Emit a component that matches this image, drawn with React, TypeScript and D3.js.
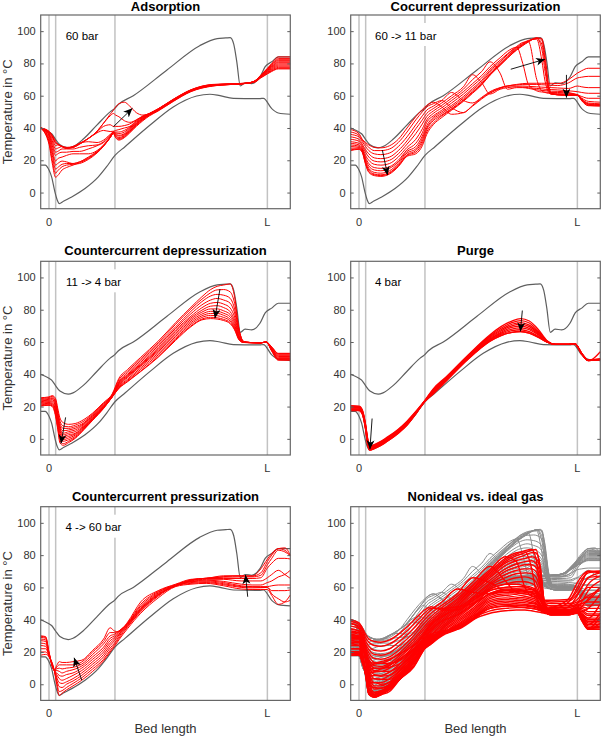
import { useEffect, useRef } from "react";
import * as d3 from "d3";

const PANEL_W = 249.6;
const PANEL_H = 193.7;
const COL_X = [40.7, 350.7];
const ROW_Y = [15, 261.3, 506.7];
const FONT = "'Liberation Sans', Arial, sans-serif";

const Y_TICKS = [0, 20, 40, 60, 80, 100];
const ZONE_LINES = [0, 3.05, 30.2, 100];

// x is position along the bed in percent, y is temperature in deg C
const hotProfileX = [-3.8, 0, 1.2, 3, 5, 8.8, 11, 15.6, 21.8, 28, 30, 31.8, 38.6, 53.9, 69, 77, 81, 83, 84.6, 86, 87.6, 89.8, 92.8, 96.6, 99, 102, 105, 110.5];
const hotProfile = [40, 37.5, 36.4, 33, 29.6, 27.7, 28.5, 33, 41.6, 50, 52, 54.6, 60, 75.8, 91, 95.4, 95.8, 96, 92, 81, 66, 68, 67.5, 71.6, 78, 81, 84, 84];
const coldProfileX = [-3.8, -1.8, 0, 1.2, 2.7, 3.8, 4.7, 6.6, 10.4, 16.5, 22.6, 26.4, 30.2, 34.8, 46.3, 56.9, 67.6, 73.7, 78.3, 84.4, 96.6, 98.2, 102, 105, 110.5];
const coldProfile = [17, 17, 14, 9.7, 0.4, -4.8, -6.8, -5.4, -2.7, 2.5, 9.7, 16, 23, 28.4, 41.8, 53, 59.8, 60.9, 60, 58.4, 58.2, 58.4, 52, 49.3, 48.5];

const adsorptionX = [-3.8, 0, 1.5, 3, 4, 6, 8, 11, 14, 18, 22, 25, 28, 29.5, 30.5, 32, 34.5, 37, 40, 43, 46, 50, 57, 65, 75, 90, 94, 97, 100, 102, 105, 110.5];
const adsorptionCurves = [
  [40, 30, 18, 9.5, 10.5, 14, 15.5, 17, 18.5, 21, 25, 29, 34, 36.5, 34, 32.5, 34, 37, 41, 44.5, 47.5, 50.5, 56.5, 62.5, 66, 67.6, 68.3, 71, 73.5, 75, 76.6, 76.6],
  [40, 31, 20, 12, 13.5, 16, 17, 17.5, 18, 20.5, 24.5, 28.7, 34, 36.7, 34.3, 33, 34.5, 37.5, 41.5, 45, 48, 50.8, 56.7, 62.7, 66.1, 67.6, 68.4, 71.3, 73.8, 75.4, 77, 77],
  [40, 32, 23, 14.5, 15.5, 17.5, 18, 18, 19, 21.5, 25, 28.8, 34, 37, 35, 33.5, 35, 38, 42, 45.3, 48, 51, 56.9, 62.9, 66.2, 67.6, 68.5, 71.6, 74.2, 75.8, 77.6, 77.6],
  [40, 33.5, 25, 17, 18, 19.5, 19, 18, 19, 22, 25.5, 29, 34.2, 37.2, 35.5, 34, 35.5, 38.5, 42.3, 45.6, 48.2, 51.2, 57, 63, 66.3, 67.6, 68.6, 71.8, 74.6, 76.3, 78.3, 78.3],
  [40, 34.5, 27, 19.5, 21, 22, 23, 24, 24, 24, 26, 29.5, 34.5, 37.5, 36, 35, 36, 39, 42.7, 45.9, 48.3, 51.3, 57.2, 63.1, 66.4, 67.6, 68.7, 72, 75, 76.8, 79, 79],
  [40, 35.5, 29, 23, 24, 25, 25, 25.5, 25.5, 27, 29, 31, 35, 37.5, 36.5, 35.5, 36.5, 39.5, 43, 46.2, 48.5, 51.5, 57.4, 63.2, 66.5, 67.6, 68.8, 72.2, 75.4, 77.3, 79.7, 79.7],
  [40, 36, 30.5, 25, 25.5, 27, 27, 27, 28, 29, 29.5, 31.5, 35.5, 37.5, 37, 36.5, 37.5, 40, 43.5, 46.5, 48.7, 51.6, 57.5, 63.3, 66.6, 67.6, 68.8, 72.3, 75.7, 77.8, 80.4, 80.4],
  [40, 36.5, 32, 27, 27.5, 28.5, 28, 28.5, 30.5, 31.5, 31, 32.5, 36, 37.5, 37.5, 37.5, 38.5, 40.5, 44, 46.8, 48.9, 51.7, 57.6, 63.4, 66.7, 67.7, 68.9, 72.4, 76, 78.2, 81, 81],
  [40, 37, 33.5, 29, 29.5, 28.5, 27.5, 28.5, 30.5, 33.5, 37, 38.5, 37.8, 38, 38.5, 39, 40, 41, 44.5, 47, 49, 51.8, 57.7, 63.5, 66.8, 67.7, 68.9, 72.5, 76.3, 78.7, 81.7, 81.7],
  [40, 37.5, 34.5, 30.5, 30, 28.5, 27.5, 28, 30.2, 33.5, 37.5, 41, 42, 41, 41, 41, 41.5, 42.5, 45, 47.2, 49, 51.8, 57.8, 63.6, 66.9, 67.7, 69, 72.6, 76.6, 79.1, 82.3, 82.3],
  [40, 37.8, 35, 31, 30, 28.5, 27.5, 28, 30, 33.5, 38, 43, 47.5, 49, 48, 47, 44.5, 43.5, 45, 47.5, 49, 51.9, 57.9, 63.7, 67, 67.7, 69, 72.7, 76.8, 79.5, 83, 83],
  [40, 38, 35.5, 32, 30, 28.5, 27.5, 28, 30, 33.5, 38, 43, 48.5, 51, 53, 55, 56, 53.5, 49.5, 48, 48.7, 51, 57.5, 63, 66.3, 67.7, 69, 72.8, 77, 80, 84, 84],
];

const cocurrentX = [-3.8, 0, 1.5, 3, 4.5, 7, 10, 14, 18, 22, 26, 29, 31, 34, 37.9, 42.4, 47.8, 52, 56.2, 60, 64.6, 68, 72.2, 75, 77.6, 81.4, 83.7, 85.2, 86.7, 88, 91, 96, 100, 102, 105, 110.5];
const cocurrentCurves = [
  [39, 36.5, 33, 31, 29.5, 28, 27.7, 29, 33, 40, 47, 51.5, 54, 56, 53, 48.5, 49.5, 53.5, 58, 61.5, 64.5, 66, 67, 67.5, 67.7, 67.7, 67.7, 67.7, 67.7, 67.7, 67.5, 70, 74, 75.5, 77, 77],
  [37.5, 35.5, 32.5, 30, 28, 26, 26, 27, 31, 37.5, 45, 50, 53, 55, 57, 52.5, 49.5, 54, 58.5, 62, 64.8, 66, 66.7, 67, 67, 67, 66.8, 66.7, 66.6, 66.5, 66.3, 68, 71, 71.5, 72, 72],
  [36, 34.5, 31.5, 28.5, 26, 24, 23.5, 24.5, 28.5, 34.5, 42, 47.5, 51, 53.5, 57, 62, 57, 55.5, 59, 62.5, 65, 66, 66, 66, 65.8, 65.5, 65.3, 65.2, 65, 65, 64.8, 64.5, 66, 65.5, 65, 65],
  [34.5, 33, 30, 26.5, 24, 21.5, 21, 22, 26, 32, 39.5, 45, 49, 52, 55.5, 60, 65.5, 73, 68, 61, 64, 65, 65.5, 65.3, 65, 64.5, 64.3, 64, 63.9, 63.8, 63.6, 63, 62.5, 62, 61.5, 61.5],
  [33, 31.8, 29, 25, 22, 19.5, 19, 20, 24, 30, 36.5, 42.5, 47, 50.5, 54, 58.5, 64, 70, 75, 81, 74, 64, 65, 65, 64.5, 63.7, 63.3, 63.1, 63, 62.8, 62.7, 62, 60.5, 59.5, 58.4, 58.4],
  [31.5, 30.5, 28, 23, 20, 17.5, 17, 18, 22, 28, 33, 39.5, 45, 49, 52.5, 57, 62.5, 67.5, 72.5, 78, 83.5, 87.5, 90, 80, 67, 63, 62.3, 62.2, 62.1, 62, 62, 61.5, 60.5, 58.5, 56.5, 56],
  [30.5, 29.5, 27, 21.5, 18, 15.5, 15, 16, 20, 26.5, 30.5, 37, 43.5, 47.5, 51, 55.5, 61, 66, 71, 76.5, 82, 86, 90.5, 93, 93.5, 70, 63, 62, 61.5, 61.3, 61.3, 61, 60.8, 58, 55.5, 55],
  [29.5, 28.7, 26.5, 20.5, 16.5, 14, 13.5, 15, 19, 25.5, 28.5, 35, 41.5, 46.5, 50, 54, 59.5, 64.5, 69.5, 75.5, 81, 85.5, 90, 92.5, 94.3, 95, 82, 69, 62.5, 60.9, 60.8, 60.7, 60.6, 57.8, 55, 54.5],
  [28.5, 28, 26, 19.5, 15, 12.5, 12, 13.5, 18, 24.5, 27, 33.5, 40, 45.5, 49, 53, 58.5, 63.5, 68.5, 74.5, 80, 84.5, 89.5, 92, 94, 95.5, 89, 75, 64, 61, 60.7, 60.5, 60.5, 57.5, 54.7, 54.2],
  [27.5, 27.5, 25.5, 18.5, 14, 11.5, 11, 12.5, 17, 23.5, 26, 32, 39, 44.5, 48, 52, 57.5, 62.5, 67.5, 73.5, 79.5, 84, 89, 91.7, 93.8, 95.7, 92, 79, 65, 61.3, 60.6, 60.4, 60.4, 57.3, 54.5, 54],
  [26.5, 27, 25, 18, 13, 11, 10.5, 12, 16.5, 23, 25, 30.5, 37.5, 43, 47.5, 51.5, 57, 62, 67, 73, 79, 83.5, 88.5, 91.3, 93.5, 95.8, 94.5, 82, 66, 61.5, 60.5, 60.3, 60.4, 57, 54, 53.7],
  [26, 26.8, 25, 17.5, 12.5, 10.5, 10, 11.5, 16, 22.5, 24, 29, 36, 42, 46.5, 51, 56.5, 61.5, 66.7, 72.7, 78.7, 83.2, 88.3, 91, 93.3, 95.7, 95.5, 85, 68, 62, 60.5, 60.2, 60.3, 56.8, 53.8, 53.6],
];

const counterDepressX = [-3.8, 0, 1.5, 3, 4, 5, 6.5, 9, 12, 16, 20, 25, 29, 32, 36, 42, 50, 58, 65, 70, 74, 77, 80, 83, 85, 87, 89, 92, 97, 99.5, 102, 105, 110.5];
const counterDepressCurves = [
  [25.5, 26, 26.8, 25, 19, 13, 10, 9, 9.5, 12, 16, 22.5, 28, 37.5, 43, 50.5, 60.5, 72, 81.5, 88, 92.5, 94.5, 95.3, 96, 88, 68, 60.5, 59.7, 59.5, 60, 57, 53, 53],
  [25, 25.6, 26.3, 24, 17.5, 11, 8, 7.5, 8.5, 11, 15.5, 22, 27.5, 36.5, 42, 49.5, 59.5, 71, 80.5, 86.5, 90.5, 92.3, 92.5, 91, 84, 68, 60.5, 59.7, 59.5, 60, 56.8, 52.8, 52.8],
  [24.5, 25, 25.5, 23, 16, 9.5, 6.5, 6.5, 7.5, 10, 15, 21.5, 27.3, 35.5, 41, 48.5, 58.5, 69.5, 79, 85, 88.5, 89.5, 89, 87, 80.5, 67, 60.3, 59.7, 59.5, 60, 56.5, 52.5, 52.5],
  [24, 24.5, 25, 22, 15, 8, 5, 5.5, 6.5, 9.5, 14.5, 21, 27, 35, 40, 47.5, 57.5, 68.5, 77.5, 83, 86, 87, 86, 84, 78, 66, 60.2, 59.7, 59.5, 60, 56.3, 52, 52],
  [23.5, 24, 24.3, 21, 14, 7, 3.5, 4.5, 5.5, 9, 14, 20.5, 26.8, 34.5, 39.5, 46.5, 56.5, 67.5, 76, 81.2, 84, 84.5, 83.5, 81, 75.5, 65, 60, 59.7, 59.5, 60, 56, 51.5, 51.5],
  [23, 23.5, 23.5, 20, 13, 6, 2.5, 3.5, 4.5, 8.3, 13.5, 20.3, 26.5, 34, 39, 46, 55.5, 66.5, 75, 79.7, 82.2, 82.5, 81.3, 78.7, 73.5, 64, 60, 59.7, 59.5, 60, 55.7, 51, 51],
  [22.5, 23, 22.8, 19, 12, 5, 1.5, 2.5, 3.5, 7.8, 13, 20, 26.3, 33.5, 38.5, 45.5, 54.8, 65.5, 74, 78.5, 80.5, 80.5, 79.3, 77, 72, 63.3, 60, 59.6, 59.5, 60, 55.4, 50.5, 50.5],
  [22, 22.5, 22, 18, 10.5, 3.5, 0.5, 1.5, 3, 7.3, 12.7, 19.7, 26.2, 33, 38, 45, 54, 64.5, 73, 77.3, 79, 79, 77.8, 75.5, 70.5, 62.7, 59.8, 59.6, 59.5, 60, 55.2, 50, 50],
  [21.5, 22, 21.5, 17, 9, 2, -0.5, 0.5, 2.3, 6.8, 12.3, 19.5, 26.1, 32.5, 37, 44, 53, 63.5, 72, 76.2, 77.7, 77.7, 76.5, 74, 69.5, 62.3, 59.8, 59.6, 59.5, 60, 55, 49.7, 49.7],
  [21, 21.5, 21, 16, 8, 0.5, -1.5, -0.5, 1.5, 6.5, 12, 19.3, 26, 32, 36.3, 43, 52, 62.5, 71, 75.2, 76.5, 76.3, 75.2, 73, 68.5, 62, 59.7, 59.6, 59.5, 60, 54.8, 49.3, 49.3],
  [20.5, 21, 20.5, 15, 7, -1, -3, -1.5, 0.8, 6, 11.7, 19, 26, 31.5, 35.7, 42, 51, 61.7, 70, 74.2, 75.3, 75, 74, 72, 68, 61.5, 59.7, 59.6, 59.5, 60, 54.5, 49, 49],
  [20.3, 20.8, 20, 14, 6, -2.5, -4, -2.3, 0.3, 5.7, 11.5, 18.8, 26, 31.2, 35.4, 41.7, 50.5, 61, 69.5, 73.7, 74.5, 74.2, 73.3, 71.3, 67.5, 61.3, 59.7, 59.6, 59.5, 60, 54.3, 48.7, 48.7],
];

const purgeX = [-3.8, 0, 1.5, 3, 4, 5, 7, 10, 14, 18, 22, 26, 30, 34, 40, 50, 60, 65, 70, 74, 78, 82, 86, 90, 96, 99, 102, 105, 107, 110.5];
const purgeCurves = [
  [20.5, 20.3, 18, 9, 0, -4.5, -3.5, -1.5, 2, 6, 11, 17, 23.5, 31, 38.5, 52, 64.5, 69.5, 73, 74.5, 73, 68, 61, 58.5, 58.5, 58.7, 53, 48.8, 49, 49.5],
  [20.2, 20, 17.6, 8.6, -0.5, -5, -3.8, -1.9, 1.6, 5.6, 10.6, 16.7, 23.4, 30.4, 38.2, 51.6, 63.8, 68.5, 72, 73.3, 71.8, 67, 60.7, 58.5, 58.5, 58.7, 52.9, 48.7, 48.9, 49.5],
  [19.8, 19.7, 17.2, 8.2, -1, -5.4, -4.2, -2.3, 1.2, 5.2, 10.2, 16.4, 23.3, 29.9, 37.9, 51.2, 63.2, 67.6, 71, 72, 70.5, 66.2, 60.5, 58.5, 58.5, 58.7, 52.8, 48.7, 48.8, 49.3],
  [19.4, 19.3, 16.8, 7.8, -1.6, -5.8, -4.6, -2.7, 0.9, 4.8, 9.9, 16.2, 23.2, 29.4, 37.5, 50.9, 62.6, 66.8, 70, 70.9, 69.5, 65.5, 60.3, 58.5, 58.5, 58.7, 52.8, 48.6, 48.8, 49.3],
  [19, 19, 16.4, 7.4, -2.2, -6.1, -5, -3, 0.6, 4.5, 9.5, 16, 23.1, 29, 37.2, 50.5, 62, 66, 69, 69.8, 68.5, 65, 60.2, 58.5, 58.5, 58.7, 52.7, 48.6, 48.8, 49.2],
  [18.6, 18.6, 16, 7, -2.8, -6.4, -5.3, -3.3, 0.3, 4.2, 9.2, 15.8, 23.1, 28.7, 36.9, 50.2, 61.5, 65.3, 68, 68.7, 67.6, 64.5, 60.1, 58.5, 58.5, 58.7, 52.7, 48.6, 48.7, 49.2],
  [18.2, 18.2, 15.8, 6.6, -3.3, -6.7, -5.6, -3.6, 0, 3.9, 8.9, 15.6, 23, 28.4, 36.5, 49.8, 61, 64.7, 67, 67.6, 66.5, 63.7, 60, 58.5, 58.5, 58.7, 52.6, 48.5, 48.7, 49.1],
  [17.8, 17.8, 15.6, 6, -4, -7, -6, -4, -0.5, 3.5, 8.5, 15.5, 23, 28, 36, 49.5, 60.5, 64, 66, 66.5, 65.5, 63, 60, 58.5, 58.5, 58.7, 52.5, 48.5, 48.7, 49],
  [17.5, 17.5, 15.4, 6, -4, -7, -6, -4, -0.5, 3.5, 8.5, 15.5, 23, 28, 36, 49.5, 60.5, 64, 66, 66.5, 65.5, 63, 60, 58.5, 58.5, 58.7, 52.5, 48.5, 49.5, 54],
];

const pressurizationX = [-3.8, -1.5, 0, 2.5, 3.5, 4.7, 6, 8, 11, 15, 20, 25, 28, 30, 32, 36, 42, 50, 58, 65, 72, 80, 88, 93, 97, 100, 102, 105, 108, 110.5];
const pressurizationCurves = [
  [18, 18.5, 17, 8, 0, -7, -5.5, -3.5, -1, 2.5, 8, 14.5, 20, 23.5, 27.5, 34.5, 44, 53.5, 60.5, 62, 62.5, 61, 59, 58.7, 58.7, 58.7, 55, 49.5, 51, 55.3],
  [20, 20, 17.3, 8, 1.5, -4.5, -4, -2, 0.5, 4, 9.5, 15.5, 21, 24.5, 28.5, 35.5, 45, 54.5, 61, 62.5, 63, 61.7, 60, 59.7, 59.8, 60, 56, 53, 51, 52],
  [22, 22, 17.7, 8, 3, -1.5, -2, 0, 2, 5.5, 11, 17, 22.5, 25.5, 29.5, 36, 45.5, 55, 61, 63, 63.5, 62.3, 60.5, 60.2, 60, 60, 58, 58, 58, 58.4],
  [24, 23.5, 18, 8.2, 4.5, 1, 0.5, 1.5, 3.5, 7, 12.5, 18.5, 24, 27, 30.5, 36.5, 46, 55.5, 61, 63.5, 64, 63, 61, 60.5, 60.5, 60.5, 61, 61.5, 61.5, 61.5],
  [25.5, 25, 18.3, 8.3, 6, 3.5, 2.5, 3.5, 5.5, 8.5, 14, 20, 25.5, 28, 31, 37, 46.5, 55.5, 61, 63.7, 64.5, 63.7, 62, 61.5, 61.5, 63, 64, 66.5, 68, 70.6],
  [27, 26.5, 18.7, 8.4, 7, 5.5, 5, 6, 7, 10, 15.5, 21.5, 27, 29, 32, 37.2, 47, 56, 61, 64, 65, 65, 64, 64, 64, 66, 68, 70.6, 68, 65.6],
  [28, 27.5, 19, 8.5, 8.5, 8, 7, 8, 9, 11.3, 17, 23, 28.5, 30, 32.5, 37.5, 47.5, 56.5, 61.3, 64.3, 65.5, 65.5, 65.5, 65.5, 66, 72, 75, 78, 78, 77.6],
  [29, 28.5, 19.3, 8.6, 9.5, 10, 9.5, 10, 10.5, 12.5, 18.5, 25, 30, 31, 33, 37.7, 48.5, 57, 61.5, 64.5, 65.7, 66.3, 66.5, 66.5, 67.5, 74, 78, 83, 82, 79.7],
  [29.7, 29, 19.7, 8.7, 10.5, 12, 12, 12, 12, 13.8, 20, 26.5, 32, 32, 33, 38, 49.5, 57.5, 61.7, 64.7, 65.7, 66.7, 67, 67, 69, 76, 80, 84, 83, 80],
  [30, 29.5, 20, 9, 11.5, 14, 13.5, 13.5, 14, 14.9, 21, 28, 35, 33, 32.5, 38.5, 51, 58, 62, 65, 65.6, 67.2, 67.3, 67, 71.5, 77.5, 81, 84, 84.5, 80],
];

const idealGasX = [-3.8, 0, 1.5, 3, 4.5, 7, 10, 14, 19, 25, 30, 33, 38, 45, 52, 60, 67, 72, 76, 79, 81, 83, 85, 88, 96, 100, 102, 105, 110.5];
const idealGasCurves = [
  [40, 38, 35, 31, 28, 26.5, 26, 27.5, 32, 39.5, 46, 48, 46, 46, 52, 58, 60, 60.5, 60.5, 59, 58, 55, 52, 52, 52.5, 58, 63, 70, 70],
  [39, 37, 34, 29, 26, 24, 23.5, 25, 29.5, 37, 44, 47, 47, 48, 50, 56, 58, 59, 59, 58.5, 57.5, 55, 51.5, 51, 51.5, 56, 60, 66, 67],
  [37.5, 36, 32.5, 27, 23.5, 21, 20.5, 22, 27, 34.5, 42, 46, 51, 59, 57, 56, 58, 58, 58, 57.5, 57, 54, 50.5, 50, 50, 52.5, 56, 60, 60],
  [36, 34.5, 31, 25, 21.5, 18.5, 18, 19.5, 24.5, 32, 40, 44, 49, 56, 66, 63, 58, 57.5, 57, 56.5, 56, 53.5, 49.5, 48.5, 48.5, 50, 52, 54, 54],
  [34.5, 33, 30, 23.5, 19.5, 16, 15.5, 17, 22, 30, 38, 42, 47.5, 54.5, 63, 73, 64, 57, 56, 55.5, 55, 52.5, 48.5, 47.5, 47.5, 49, 50, 51, 51],
  [33, 32, 29, 22, 17.5, 13.5, 13, 15, 20, 28, 36, 40.5, 46, 53, 61.5, 71, 79, 76, 60, 54.5, 54, 52, 48, 46.5, 46.5, 48, 49, 49, 49],
  [32, 31, 28, 20.5, 15.5, 11.5, 11, 13, 18.5, 26.5, 34.5, 39, 45, 52, 60.5, 70, 78, 81.5, 82, 72, 58, 52, 47.5, 46, 46, 47.5, 48, 47, 47],
  [31, 30, 27, 19, 14, 10, 9.5, 11.5, 17, 25, 33, 38, 44, 51, 59.5, 69, 77, 80.5, 82.8, 83.5, 78, 60, 47.5, 45.5, 45.5, 47, 47, 45, 45],
  [30, 29.5, 26, 18, 12.5, 8.5, 8, 10, 15.5, 23.5, 32, 37, 43, 50, 59, 68, 76, 79.5, 81.5, 83, 83.5, 72, 50, 45, 45, 46.5, 46, 43.5, 43.5],
  [30, 29.5, 28.5, 22, 12, 6, 5.5, 7.5, 13, 22, 31, 36, 42, 49, 58, 67, 75, 78, 80, 81.5, 81.5, 73, 50, 45, 45, 46, 45, 42.5, 42.5],
  [29, 29, 28, 21, 10, 3.5, 3, 5.5, 11, 20, 30, 35, 41, 48, 57, 66, 73.5, 76.5, 78, 79, 78, 71, 50, 44.5, 44.5, 45.5, 44, 41, 41],
  [28, 28.5, 27, 20, 8, 1, 1, 3.5, 9, 18.5, 29, 34, 40, 47, 55.5, 64.5, 71.5, 74.5, 76, 76.5, 75, 68, 49, 44.5, 44.5, 45, 43.5, 40, 40],
  [27, 27.5, 26, 19, 6.5, -1, -1, 1.5, 7.5, 17, 28, 33, 39, 46, 54, 63, 70, 72.5, 74, 74, 72.5, 65, 48.5, 44, 44, 45, 43, 39, 39],
  [26, 26.5, 25, 17.5, 5, -3, -2.5, 0, 6, 15.5, 26, 32, 38, 45, 53, 62, 68, 70.5, 71.5, 71.5, 70, 62, 48, 44, 44, 44.5, 42.5, 38, 38],
  [25, 26, 24, 16, 3, -5, -4, -1.5, 4.5, 14, 24.5, 30.5, 37, 44, 51.5, 61, 66, 68.5, 69, 68.5, 66.5, 59, 47.5, 43.5, 43.5, 44.5, 42, 37, 37],
  [24, 25, 22.5, 14, 1, -6.5, -5, -2.5, 3.5, 13, 23, 29.5, 36, 43, 50.5, 60, 64, 66, 66.5, 65.5, 63.5, 56, 47, 43.5, 43.5, 44.5, 41.5, 36, 36],
  [22, 22, 19, 10, -2, -7.5, -6, -3.5, 3.5, 12, 22.5, 28, 35, 42, 49.5, 59, 62, 63.5, 63.5, 62.5, 60.5, 54, 46.5, 43.3, 43.3, 44.5, 41, 35, 35],
  [20, 20, 17, 7, -5, -8, -6.5, -4.5, 3.5, 11, 22, 27, 34, 41, 48.5, 58, 60, 60.5, 60, 59, 57, 52, 46, 43.3, 43.3, 44.5, 40.5, 34.5, 35],
  [19, 19, 16, 6, -6, -8, -6.5, -3, 3.5, 10.5, 22, 26.5, 33, 40, 47, 56.5, 58.5, 58, 57.5, 56.5, 54.5, 50, 45.5, 43, 43, 44.5, 40, 34, 38],
  [18, 18, 15, 6, -6, -8, -6, -2, 3.5, 14, 22, 25, 32, 39, 46, 55, 57, 56.5, 56, 55, 53.5, 49.5, 45, 43, 43, 44.5, 39.5, 34.5, 42],
  [18, 18.5, 13, 7, -3, -5, -4.5, -1.5, 4.5, 15, 23, 26, 31, 38, 45, 54, 56, 55.5, 54.5, 53.5, 52.5, 49, 45, 43, 43.5, 44.5, 42, 41, 50],
  [20, 20, 14, 7, -1, -2, -2.5, -0.5, 5.5, 16, 24, 27, 31, 37, 44, 53, 55, 54, 53.5, 52.5, 51.5, 48.5, 44.5, 43.5, 44, 45, 45, 47, 56],
  [22, 22, 15, 7, 1, 1, 0, 1, 7, 17, 25, 28, 31.5, 36.5, 43, 52, 53.5, 53, 52.5, 51.5, 50.5, 48, 44.5, 44, 44, 46, 48, 53, 60],
  [24, 24, 16, 7, 3, 3.5, 3, 3, 8.5, 18, 25.5, 28.5, 32, 36, 42, 51, 52.5, 52, 51.5, 50.5, 50, 47.5, 44.5, 44, 45, 48, 51, 58, 64],
  [26, 26, 17, 8, 5, 5.5, 5, 5.5, 10, 19, 26, 29, 32, 35.5, 41, 50, 51.5, 51, 50.5, 50, 49.5, 47, 44.5, 44.5, 46, 50, 55, 62, 67],
  [28, 28, 18, 8, 7, 7.5, 8, 8, 11.5, 20, 26.5, 29.5, 32, 35, 40.5, 49, 50.5, 50, 49.5, 49, 48.5, 46.5, 44.5, 45, 48, 55, 60, 66, 69],
  [30, 30, 19, 9, 9, 10, 10, 10.5, 13, 21, 27, 30, 32, 34.5, 40, 48, 49.5, 49, 48.5, 48, 47.5, 46, 44.5, 46, 51, 60, 65, 69, 70],
  [32, 32, 21, 10, 11, 12.5, 13, 13, 15, 22, 28, 31, 33, 34, 39.5, 47, 48.5, 48, 47.5, 47, 46.5, 45.5, 44.5, 47, 53, 63, 67, 70, 69],
  [38, 35, 28, 18, 14, 13, 14, 15.5, 19, 24, 31, 37, 42, 47, 53, 59, 62, 62, 61, 60, 58.5, 55, 50, 48.5, 49, 51, 52, 55, 58],
  [18, 18, 15, 7, -6, -8, -6.5, -2, 3.5, 14, 22, 25, 30, 34, 40, 44, 45.5, 46, 46, 45.5, 45, 44.5, 44, 43, 43, 44, 39.5, 34, 34],
  [19, 19, 15, 7, -5, -7, -5.5, -1, 4.5, 14.5, 22.5, 25.5, 30.5, 34.5, 41, 45.5, 47, 47.5, 47.5, 47, 46.5, 46, 44.5, 43.2, 43.2, 44.2, 40, 35, 36],
  [20, 20, 16, 8, -3, -6, -4.5, 0, 5.5, 15, 23, 26, 31, 35, 42, 47, 48.5, 49, 49, 48.5, 48, 47, 45, 43.4, 43.4, 44.3, 41, 37, 44],
  [34, 33, 27, 17, 9, 8, 9.5, 12, 16, 22, 28, 34, 39, 43, 49, 56, 59, 59, 58, 57, 56, 53, 48, 47, 47.5, 49, 50, 52, 60],
];

type Family = { xs: number[]; curves: number[][]; color: string; width: number };
// arrow: [x0, y0, x1, y1] in data units
type PanelDef = {
  title: string;
  note?: string;
  noteX: number;
  noteBox?: number;
  families: Family[];
  arrows: number[][];
};

const RED = "#ff0000";
const DARK = "#5e5e5e";
const MID_GREY = "#8c8c8c";

const refs: Family[] = [
  { xs: hotProfileX, curves: [hotProfile], color: DARK, width: 1.2 },
  { xs: coldProfileX, curves: [coldProfile], color: DARK, width: 1.2 },
];
const red = (xs: number[], curves: number[][], width = 1): Family => ({ xs, curves, color: RED, width });
const grey = (xs: number[], curves: number[][]): Family => ({ xs, curves, color: MID_GREY, width: 1 });

const panels: PanelDef[] = [
  { title: "Adsorption", note: "60 bar", noteX: 25, families: [...refs, red(adsorptionX, adsorptionCurves)], arrows: [[29.5, 40.8, 38.2, 52.2]] },
  { title: "Cocurrent depressurization", note: "60 -> 11 bar", noteX: 24.3, noteBox: 66, families: [...refs, red(cocurrentX, cocurrentCurves)], arrows: [[10.7, 26.3, 13.1, 10.8], [69.5, 76.4, 85.2, 82.6], [95, 72.9, 95, 58.8]] },
  { title: "Countercurrent depressurization", note: "11 -> 4 bar", noteX: 25.3, noteBox: 58, families: [...refs, red(counterDepressX, counterDepressCurves)], arrows: [[7.6, 13.3, 5.5, -2.9], [78.3, 92.8, 76, 74.7]] },
  { title: "Purge", note: "4 bar", noteX: 24.3, families: [...refs, red(purgeX, purgeCurves, 1.3)], arrows: [[6, 12.6, 5, -6.4], [74.8, 79.5, 73.9, 66.5]] },
  { title: "Countercurrent pressurization", note: "4 -> 60 bar", noteX: 24.8, noteBox: 58, families: [...refs, red(pressurizationX, pressurizationCurves)], arrows: [[15, 2.5, 11.5, 16.4], [91, 54.2, 90, 67.7]] },
  {
    title: "Nonideal vs. ideal gas",
    noteX: 0,
    families: [
      grey(adsorptionX, adsorptionCurves),
      grey(cocurrentX, cocurrentCurves),
      grey(counterDepressX, counterDepressCurves),
      grey(purgeX, purgeCurves),
      grey(pressurizationX, pressurizationCurves),
      red(idealGasX, idealGasCurves, 1.4),
    ],
    arrows: [],
  },
];

const xScale = d3.scaleLinear().domain([-3.8, 110.5]).range([0, PANEL_W]);
const yScale = d3.scaleLinear().domain([-10, 110]).range([PANEL_H, 0]);

const Panel = ({ def, col, row }: { def: PanelDef; col: number; row: number }) => {
  const leftRef = useRef<SVGGElement>(null);
  const rightRef = useRef<SVGGElement>(null);

  useEffect(() => {
    const left = d3.select(leftRef.current!);
    left.selectAll("*").remove();
    left.call(d3.axisLeft(yScale).tickValues(Y_TICKS).tickSizeInner(-3).tickSizeOuter(0).tickPadding(5) as any);
    left.select(".domain").remove();
    left.selectAll("line").attr("stroke", DARK);
    left.selectAll("text").attr("fill", "#333").attr("font-size", 11).attr("font-family", FONT);

    const right = d3.select(rightRef.current!);
    right.selectAll("*").remove();
    right.call(d3.axisRight(yScale).tickValues(Y_TICKS).tickSizeInner(-3).tickSizeOuter(0).tickFormat(() => "") as any);
    right.select(".domain").remove();
    right.selectAll("line").attr("stroke", DARK);
  }, []);

  const paths = def.families.flatMap((fam, f) => {
    const line = d3
      .line<number>()
      .defined((_, i) => i < fam.xs.length)
      .x((_, i) => xScale(fam.xs[i]))
      .y((d) => yScale(d))
      .curve(d3.curveMonotoneX);
    return fam.curves.map((c, i) => (
      <path key={`${f}-${i}`} d={line(c) ?? ""} fill="none" stroke={fam.color} strokeWidth={fam.width} />
    ));
  });

  return (
    <g transform={`translate(${COL_X[col]},${ROW_Y[row]})`}>
      {ZONE_LINES.map((z) => (
        <line key={z} x1={xScale(z)} x2={xScale(z)} y1={0} y2={PANEL_H} stroke="#c2c2c2" strokeWidth={1.5} />
      ))}
      {def.note && def.noteBox && (
        <rect x={def.noteX - 1} y={8} width={def.noteBox} height={23} fill="#fff" />
      )}
      {paths}
      {def.arrows.map((a, i) => (
        <line
          key={i}
          x1={xScale(a[0])}
          y1={yScale(a[1])}
          x2={xScale(a[2])}
          y2={yScale(a[3])}
          stroke="#000"
          strokeWidth={0.9}
          markerEnd="url(#head)"
        />
      ))}
      {def.note && (
        <text x={def.noteX} y={24.5} fontSize={11.5} fontFamily={FONT} fill="#000">
          {def.note}
        </text>
      )}
      <rect width={PANEL_W} height={PANEL_H} fill="none" stroke="#666" strokeWidth={1.2} />
      <g ref={leftRef} />
      <g ref={rightRef} transform={`translate(${PANEL_W},0)`} />
      <text x={PANEL_W / 2} y={row === 0 ? -4.5 : -6} textAnchor="middle" fontSize={13} fontWeight="bold" fontFamily={FONT} fill="#000">
        {def.title}
      </text>
      {[0, 100].map((v) => (
        <text key={v} x={xScale(v)} y={PANEL_H + 17} textAnchor="middle" fontSize={11} fontFamily={FONT} fill="#333">
          {v === 0 ? "0" : "L"}
        </text>
      ))}
      {col === 0 && (
        <text
          transform={`translate(${11.5 - COL_X[0]},${PANEL_H / 2}) rotate(-90)`}
          textAnchor="middle"
          fontSize={13}
          fontFamily={FONT}
          fill="#333"
        >
          Temperature in °C
        </text>
      )}
      {row === 2 && (
        <text x={PANEL_W / 2} y={PANEL_H + 33} textAnchor="middle" fontSize={13} fontFamily={FONT} fill="#333">
          Bed length
        </text>
      )}
    </g>
  );
};

export default function App() {
  return (
    <svg width={601} height={738} style={{ position: "absolute", left: 0, top: 0, background: "#fff" }}>
      <defs>
        <marker id="head" markerUnits="userSpaceOnUse" markerWidth={12} markerHeight={10} refX={9} refY={4} orient="auto">
          <path d="M9,4 L0,0 L2.5,4 L0,8 Z" fill="#000" />
        </marker>
      </defs>
      {panels.map((p, i) => (
        <Panel key={p.title} def={p} col={i % 2} row={Math.floor(i / 2)} />
      ))}
    </svg>
  );
}
